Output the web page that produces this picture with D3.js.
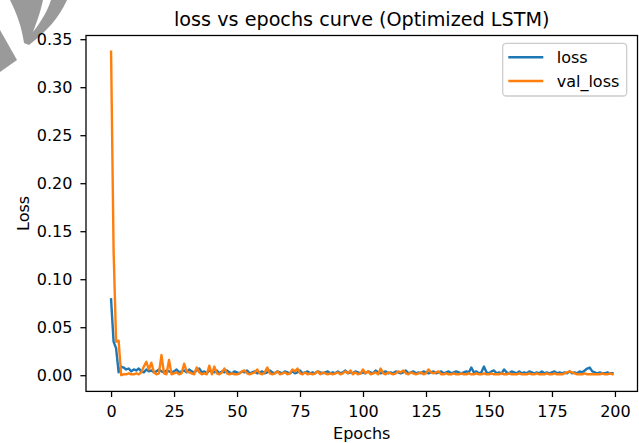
<!DOCTYPE html>
<html lang="en">
<head>
    <meta charset="UTF-8">
    <title>loss vs epochs</title>
    <script src="https://d3js.org/d3.v7.min.js"></script>
    <style>
        body { margin: 0; background: #fff; }
        text { font-family: "DejaVu Sans", sans-serif; fill: #000; }
    </style>
</head>
<body>
    <div id='main'></div>
    <script>
// data
var epochs = d3.range(0, 200)
var loss = [
    0.079, 0.035, 0.028, 0.003, 0.009, 0.008, 0.006, 0.007, 0.004, 0.006,
    0.005, 0.007, 0.004, 0.003, 0.006, 0.004, 0.005, 0.003, 0.004, 0.006,
    0.004, 0.003, 0.005, 0.004, 0.003, 0.004, 0.006, 0.003, 0.004, 0.005,
    0.003, 0.006, 0.004, 0.003, 0.005, 0.007, 0.003, 0.004, 0.002, 0.005,
    0.004, 0.003, 0.005, 0.002, 0.004, 0.003, 0.005, 0.003, 0.002, 0.004,
    0.003, 0.002, 0.004, 0.003, 0.005, 0.002, 0.003, 0.004, 0.002, 0.003,
    0.004, 0.002, 0.003, 0.005, 0.003, 0.002, 0.004, 0.003, 0.002, 0.004,
    0.003, 0.002, 0.004, 0.002, 0.003, 0.005, 0.002, 0.003, 0.004, 0.002,
    0.003, 0.002, 0.004, 0.003, 0.002, 0.003, 0.004, 0.002, 0.003, 0.002,
    0.004, 0.002, 0.003, 0.005, 0.002, 0.003, 0.002, 0.004, 0.003, 0.002,
    0.003, 0.002, 0.004, 0.003, 0.002, 0.005, 0.003, 0.002, 0.003, 0.004,
    0.002, 0.003, 0.002, 0.004, 0.003, 0.002, 0.003, 0.005, 0.002, 0.003,
    0.004, 0.002, 0.003, 0.002, 0.004, 0.003, 0.002, 0.003, 0.004, 0.002,
    0.003, 0.004, 0.002, 0.003, 0.004, 0.002, 0.003, 0.004, 0.003, 0.002,
    0.003, 0.004, 0.003, 0.008, 0.003, 0.004, 0.002, 0.003, 0.009, 0.003,
    0.002, 0.004, 0.005, 0.002, 0.003, 0.002, 0.006, 0.003, 0.002, 0.004,
    0.003, 0.002, 0.004, 0.002, 0.003, 0.002, 0.004, 0.003, 0.002, 0.003,
    0.002, 0.004, 0.002, 0.003, 0.002, 0.003, 0.004, 0.002, 0.003, 0.002,
    0.003, 0.002, 0.004, 0.002, 0.003, 0.002, 0.004, 0.003, 0.005, 0.007,
    0.008, 0.004, 0.003, 0.002, 0.003, 0.002, 0.002, 0.003, 0.002, 0.002
]
var valLoss = [
    0.337, 0.130, 0.035, 0.036, 0.000, 0.001, 0.001, 0.002, 0.001, 0.001,
    0.002, 0.001, 0.003, 0.009, 0.014, 0.006, 0.013, 0.003, 0.001, 0.002,
    0.021, 0.002, 0.001, 0.016, 0.001, 0.002, 0.003, 0.001, 0.002, 0.012,
    0.004, 0.003, 0.002, 0.001, 0.008, 0.003, 0.001, 0.002, 0.001, 0.010,
    0.001, 0.009, 0.002, 0.001, 0.003, 0.007, 0.002, 0.001, 0.002, 0.001,
    0.001, 0.002, 0.004, 0.005, 0.002, 0.001, 0.002, 0.003, 0.006, 0.002,
    0.001, 0.003, 0.008, 0.002, 0.001, 0.002, 0.004, 0.001, 0.002, 0.003,
    0.001, 0.002, 0.006, 0.004, 0.007, 0.002, 0.001, 0.003, 0.001, 0.002,
    0.001, 0.002, 0.004, 0.001, 0.003, 0.002, 0.001, 0.002, 0.001, 0.002,
    0.003, 0.001, 0.002, 0.004, 0.002, 0.005, 0.001, 0.003, 0.001, 0.002,
    0.006, 0.002, 0.004, 0.001, 0.002, 0.003, 0.001, 0.007, 0.002, 0.001,
    0.003, 0.002, 0.001, 0.002, 0.004, 0.003, 0.005, 0.002, 0.001, 0.003,
    0.002, 0.001, 0.002, 0.003, 0.001, 0.002, 0.006, 0.003, 0.002, 0.003,
    0.004, 0.001, 0.001, 0.002, 0.001, 0.001, 0.002, 0.001, 0.001, 0.002,
    0.001, 0.001, 0.002, 0.001, 0.001, 0.002, 0.001, 0.001, 0.002, 0.001,
    0.001, 0.002, 0.001, 0.001, 0.001, 0.002, 0.001, 0.001, 0.002, 0.001,
    0.001, 0.001, 0.002, 0.001, 0.001, 0.001, 0.002, 0.001, 0.001, 0.002,
    0.001, 0.001, 0.001, 0.002, 0.001, 0.001, 0.002, 0.001, 0.001, 0.001,
    0.002, 0.003, 0.004, 0.003, 0.002, 0.001, 0.001, 0.001, 0.002, 0.001,
    0.001, 0.001, 0.001, 0.001, 0.001, 0.002, 0.001, 0.001, 0.002, 0.001
]
var seriesNames = ['loss', 'val_loss']
var seriesColors = ['#1f77b4', '#ff7f0e']
var xTicks = [0, 25, 50, 75, 100, 125, 150, 175, 200]
var yTicks = [0, 0.05, 0.10, 0.15, 0.20, 0.25, 0.30, 0.35]

var width = 639
var height = 443
var box = {left: 86, right: 637.5, top: 35.5, bottom: 391.4}

var svg = d3.select('#main').append('svg')
    .attr('width', width)
    .attr('height', height)
    .style('display', 'block')

// grey watermark fragment in the top-left corner
svg.append('path')
    .attr('d', 'M0,30 L17,60 L0,72 Z')
    .attr('fill', '#9a9a9a')
svg.append('path')
    .attr('d', 'M10,0 L43,0 C40,14 36,24 33,32 C41,22 48,10 51,0 L67,0 C59,18 46,32 29,45 L24,43 C22,28 17,14 10,0 Z')
    .attr('fill', '#9a9a9a')

// matplotlib style 5% margins
var xExt = d3.extent(epochs)
var xPad = (xExt[1] - xExt[0]) * 0.05
var yExt = d3.extent(loss.concat(valLoss))
var yPad = (yExt[1] - yExt[0]) * 0.05

var xScale = d3.scaleLinear()
    .domain([xExt[0] - xPad, xExt[1] + xPad])
    .range([box.left, box.right])
var yScale = d3.scaleLinear()
    .domain([yExt[0] - yPad, yExt[1] + yPad])
    .range([box.bottom, box.top])

// lines
var line = d3.line()
    .x((d, i) => xScale(epochs[i]))
    .y(d => yScale(d))

var plot = svg.append('g')
;[loss, valLoss].forEach((s, k) => {
    plot.append('path')
        .attr('d', line(s))
        .attr('fill', 'none')
        .attr('stroke', seriesColors[k])
        .attr('stroke-width', 2.4)
        .attr('stroke-linejoin', 'round')
        .attr('stroke-linecap', 'square')
})

// frame
svg.append('rect')
    .attr('x', box.left)
    .attr('y', box.top)
    .attr('width', box.right - box.left)
    .attr('height', box.bottom - box.top)
    .attr('fill', 'none')
    .attr('stroke', '#000')
    .attr('stroke-width', 1.28)

// axes
var xAxis = svg.append('g')
    .attr('transform', `translate(0,${box.bottom})`)
    .call(d3.axisBottom(xScale).tickValues(xTicks).tickFormat(d3.format('d')).tickSize(5.6).tickPadding(9))
var yAxis = svg.append('g')
    .attr('transform', `translate(${box.left},0)`)
    .call(d3.axisLeft(yScale).tickValues(yTicks).tickFormat(d3.format('.2f')).tickSize(5.6).tickPadding(8))

;[xAxis, yAxis].forEach(a => {
    a.select('.domain').remove()
    a.selectAll('line').attr('stroke', '#000').attr('stroke-width', 1.28)
    a.selectAll('text').style('font-size', '16px').style('font-family', 'DejaVu Sans')
})

// titles
svg.append('text')
    .attr('x', (box.left + box.right) / 2)
    .attr('y', 26)
    .attr('text-anchor', 'middle')
    .style('font-size', '19.2px')
    .text('loss vs epochs curve (Optimized LSTM)')
svg.append('text')
    .attr('x', (box.left + box.right) / 2)
    .attr('y', 439)
    .attr('text-anchor', 'middle')
    .style('font-size', '16px')
    .text('Epochs')
svg.append('text')
    .attr('transform', `translate(29.3,${(box.top + box.bottom) / 2}) rotate(-90)`)
    .attr('text-anchor', 'middle')
    .style('font-size', '16px')
    .text('Loss')

// legend
var legend = svg.append('g').attr('transform', 'translate(502.7,43.3)')
legend.append('rect')
    .attr('width', 124)
    .attr('height', 52.7)
    .attr('rx', 3.5)
    .attr('fill', '#fff')
    .attr('fill-opacity', 0.8)
    .attr('stroke', '#cccccc')
    .attr('stroke-width', 1.28)
seriesNames.forEach((name, k) => {
    var yy = 14 + k * 23.7
    legend.append('line')
        .attr('x1', 5.6).attr('x2', 40.6)
        .attr('y1', yy).attr('y2', yy)
        .attr('stroke', seriesColors[k])
        .attr('stroke-width', 2.4)
    legend.append('text')
        .attr('x', 54)
        .attr('y', yy)
        .attr('dy', '0.35em')
        .style('font-size', '16px')
        .text(name)
})
    </script>
</body>
</html>
